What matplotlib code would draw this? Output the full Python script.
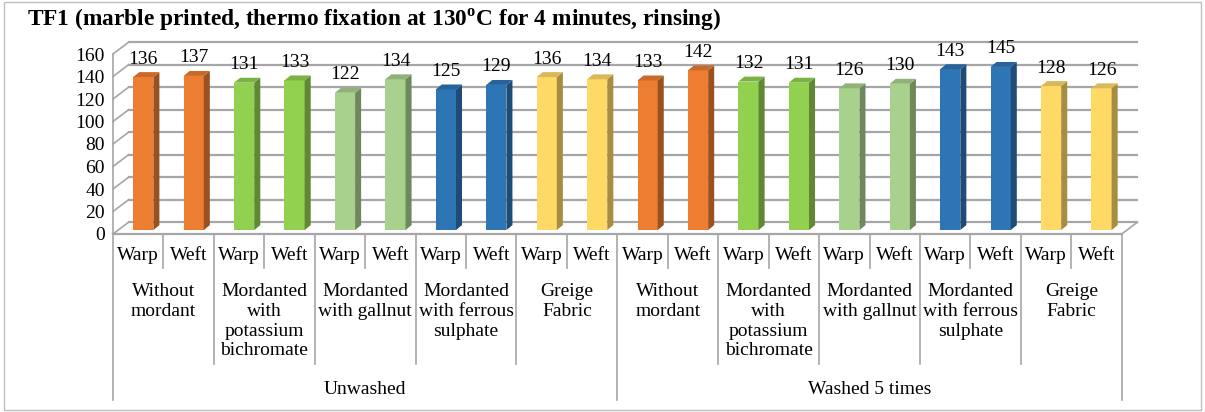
import numpy as np
import matplotlib.pyplot as plt
import matplotlib.colors as mcolors
from matplotlib.patches import Polygon, Rectangle

plt.rcParams['font.family'] = 'Liberation Serif'
plt.rcParams['mathtext.fontset'] = 'custom'
plt.rcParams['mathtext.rm'] = 'Liberation Serif'
plt.rcParams['mathtext.bf'] = 'Liberation Serif:bold'

# data
title = "TF1 (marble printed, thermo fixation at 130$^{\\mathbf{o}}$C for 4 minutes, rinsing)"
washes = ["Unwashed", "Washed 5 times"]
treatments = ["Without\nmordant", "Mordanted\nwith\npotassium\nbichromate",
              "Mordanted\nwith gallnut", "Mordanted\nwith ferrous\nsulphate",
              "Greige\nFabric"]
directions = ["Warp", "Weft"]
unwashed = [136, 137, 131, 133, 122, 134, 125, 129, 136, 134]
washed = [133, 142, 132, 131, 126, 130, 143, 145, 128, 126]
colors = ['#ED7D31', '#92D050', '#A9D18E', '#2E75B6', '#FFD966']
yticks = list(range(0, 161, 20))

values = unwashed + washed
n = len(values)
x = np.arange(n)
bar_colors = [colors[(i // 2) % len(colors)] for i in range(n)]

def shade(c, f):
    r, g, b = mcolors.to_rgb(c)
    return (r * f, g * f, b * f)

fs = 14

fig = plt.figure(figsize=(12.05, 4.12), dpi=100)
ax = fig.add_axes([113 / 1205, 178 / 412, 1008.7 / 1205, 191.25 / 412])
ax.set_xlim(0, n)
ax.set_ylim(0, 170)
for s in ax.spines.values():
    s.set_visible(False)
ax.set_xticks([])
ax.set_yticks(yticks)
ax.tick_params(axis='y', length=0, pad=6, labelsize=fs)

# fake 3d walls
DX, DY = 0.31, 10.5
gc = '#a6a6a6'
for t in yticks:
    ax.plot([DX, n + DX], [t + DY, t + DY], color=gc, lw=1.6, zorder=1, clip_on=False)
    ax.plot([0, DX], [t, t + DY], color=gc, lw=1.2, zorder=1, clip_on=False)
ax.plot([0, 0], [0, yticks[-1]], color=gc, lw=1.2, zorder=1, clip_on=False)
ax.plot([0, n], [0, 0], color=gc, lw=1.6, zorder=1, clip_on=False)
ax.plot([n, n + DX], [0, DY], color=gc, lw=1.2, zorder=1, clip_on=False)

# bars
base, bw, shift = 3.5, 0.4, 0.1
sdx, sdy = 0.12, 4.4
centers = x + 0.5 + shift
ax.bar(centers, values, width=bw, bottom=base, color=bar_colors, zorder=3)
for c, v, col in zip(centers, values, bar_colors):
    x0, x1 = c - bw / 2, c + bw / 2
    top = base + v
    ax.add_patch(Polygon([(x1, base), (x1 + sdx, base + sdy), (x1 + sdx, top + sdy), (x1, top)],
                         closed=True, color=shade(col, 0.65), zorder=3, lw=0))
    ax.add_patch(Polygon([(x0, top), (x1, top), (x1 + sdx, top + sdy), (x0 + sdx, top + sdy)],
                         closed=True, color=shade(col, 0.85), zorder=3, lw=0))
    ax.text(c, v + 19.5, str(v), ha='center', va='center', fontsize=fs, zorder=4)

# category table under the floor
tc = '#a6a6a6'
for i in range(n + 1):
    if i % 10 == 0:
        bottom = -147.6
    elif i % 2 == 0:
        bottom = -116
    else:
        bottom = -30
    ax.plot([i, i], [0, bottom], color=tc, lw=1.2, clip_on=False)
for i in range(n):
    ax.text(i + 0.5, -19.5, directions[i % 2], ha='center', va='center', fontsize=fs)
for g in range(n // 2):
    ax.text(2 * g + 1, -44.0, treatments[g % len(treatments)], ha='center', va='top',
            fontsize=fs, linespacing=1.2)
for w in range(len(washes)):
    ax.text(10 * w + 5, -138, washes[w], ha='center', va='center', fontsize=fs)

fig.text(27 / 1205, 1 - 20 / 412, title, fontsize=16.8, fontweight='bold', ha='left', va='center')
fig.patches.append(Rectangle((4 / 1205, 2 / 412), 1197 / 1205, 408 / 412, transform=fig.transFigure,
                             fill=False, ec='#bfbfbf', lw=1))

fig.savefig('out.png', dpi=100)
